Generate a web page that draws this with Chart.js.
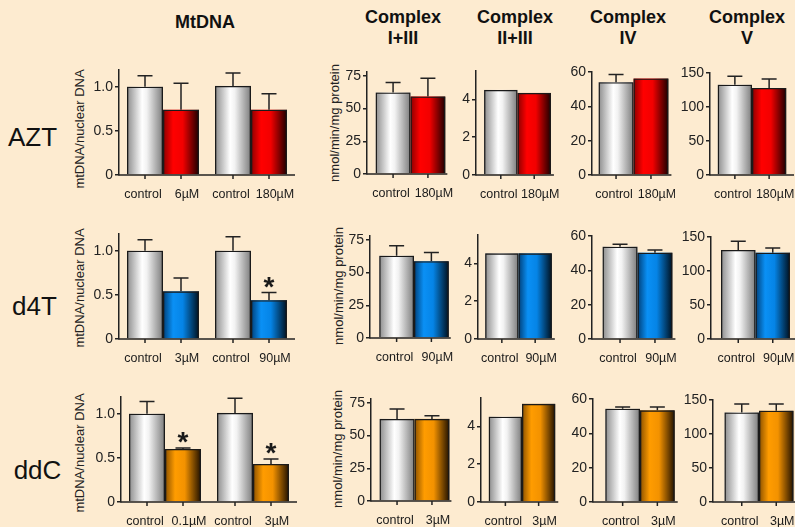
<!DOCTYPE html>
<html>
<head>
<meta charset="utf-8">
<script src="https://cdn.jsdelivr.net/npm/chart.js@4.4.1/dist/chart.umd.min.js"></script>
<style>
  body { margin: 0; background: #fdebd0; width: 795px; height: 527px; overflow: hidden; position: relative;
         font-family: 'Liberation Sans', Arial, sans-serif; color: #111; }
  canvas { position: absolute; }
  .ttl { position: absolute; transform: translate(-50%, -50%); text-align: center; font-weight: bold; font-size: 18px; line-height: 21px; white-space: nowrap; }
  .row { position: absolute; transform: translate(-50%, -50%); font-size: 26px; line-height: 1; }
  .ytl { position: absolute; transform: translate(-50%, -50%) rotate(-90deg); font-size: 13px; line-height: 1; white-space: nowrap; color: #222; }
</style>
</head>
<body>
<script>
// --- data ---
const drugs = ['AZT', 'd4T', 'ddC'];

// MtDNA panels: two control/treated pairs per drug
const mtDoses = [['6µM', '180µM'], ['3µM', '90µM'], ['0.1µM', '3µM']];
const mtControl = [[1.0, 1.01], [1.0, 1.0], [1.0, 1.01]];
const mtControlErr = [[0.125, 0.146], [0.125, 0.16], [0.14, 0.166]];
const mtTreated = [[0.74, 0.74], [0.54, 0.44], [0.60, 0.43]];
const mtTreatedErr = [[0.30, 0.18], [0.15, 0.086], [0.012, 0.057]];
const mtStars = [[false, false], [false, true], [true, true]];

// respiratory chain complexes: one control/treated pair per drug
const complexNames = ['I+III', 'II+III', 'IV', 'V'];
const complexDose = ['180µM', '90µM', '3µM'];
const complexControl = [[62.3, 4.50, 54.1, 132.7], [62.9, 4.53, 53.8, 130.9], [62.8, 4.51, 54.3, 131.8]];
const complexControlErr = [[7.6, 0, 4.5, 12.4], [7.7, 0, 1.4, 12.8], [7.6, 0, 1.1, 12.3]];
const complexTreated = [[59.3, 4.34, 56.2, 127.9], [58.7, 4.53, 50.3, 127.0], [62.8, 5.19, 53.4, 134.2]];
const complexTreatedErr = [[14.0, 0, 0, 13.2], [6.6, 0, 1.6, 6.9], [2.3, 0, 2.0, 9.9]];

// axis ranges per column (MtDNA, I+III, II+III, IV, V)
const colMax = [1.19, 78, 5.5, 60, 150];
const colStep = [0.5, 25, 2, 20, 50];

// --- layout ---
const rowBase = [175, 338.5, 501.5];
const axisX = [[118.5, 367, 475.7, 591.7, 710], [119.3, 370, 478.3, 591.7, 710.5], [120.7, 370.7, 481, 593.3, 713.3]];
const pairMid = [[410.7, 517.3, 633.3, 752.3], [414.3, 519, 637.3, 755], [414.3, 522.3, 640.7, 759.3]];
const colH = [105, 102.6, 104, 103, 102];
const colBarW = [36, 35, 33.5, 35, 34.5];
const colExtra = [0, 2, 3, 3, 9];
const Y_W = 44, PAD_T = 22, PAD_B = 32;

const grads = {
  control: [[0, '#8c8c8c'], [0.42, '#ffffff'], [0.55, '#f2f2f2'], [1, '#7c7c7c']],
  AZT: [[0, '#8a0000'], [0.28, '#ff0000'], [0.55, '#f20000'], [1, '#1c0000']],
  d4T: [[0, '#003f78'], [0.28, '#0a90f5'], [0.55, '#0584e6'], [1, '#00101e']],
  ddC: [[0, '#8a5000'], [0.28, '#ff9c00'], [0.55, '#f39200'], [1, '#201000']]
};

Chart.defaults.font.family = "'Liberation Sans', Arial, sans-serif";
Chart.defaults.color = '#222';
Chart.defaults.animation = false;

const decor = {
  id: 'decor',
  beforeDatasetsDraw(chart) {
    const ctx = chart.ctx;
    chart.data.datasets.forEach((ds, i) => {
      chart.getDatasetMeta(i).data.forEach(bar => {
        const p = bar.getProps(['x', 'y', 'base', 'width'], true);
        const l = p.x - p.width / 2;
        const g = ctx.createLinearGradient(l, 0, l + p.width, 0);
        ds.grad.forEach(s => g.addColorStop(s[0], s[1]));
        ctx.fillStyle = g;
        ctx.fillRect(l, p.y, p.width, p.base - p.y);
      });
    });
  },
  afterDatasetsDraw(chart, args, opts) {
    const ctx = chart.ctx, area = chart.chartArea, ys = chart.scales.y;
    ctx.save();
    ctx.strokeStyle = '#222';
    ctx.fillStyle = '#1a1a1a';
    ctx.lineWidth = 1.5;
    let right = area.left;
    chart.data.datasets.forEach((ds, i) => {
      chart.getDatasetMeta(i).data.forEach((bar, j) => {
        const p = bar.getProps(['x', 'y', 'width'], true);
        right = Math.max(right, p.x + p.width / 2);
        const err = ds.errs[j];
        const top = ys.getPixelForValue(ds.data[j] + err);
        if (err > 0) {
          ctx.beginPath();
          ctx.moveTo(p.x, p.y); ctx.lineTo(p.x, top);
          ctx.moveTo(p.x - 7.5, top); ctx.lineTo(p.x + 7.5, top);
          ctx.stroke();
        }
        ctx.beginPath();
        ctx.moveTo(p.x, area.bottom); ctx.lineTo(p.x, area.bottom + 4);
        ctx.stroke();
        ctx.font = "12.5px 'Liberation Sans', Arial, sans-serif";
        ctx.textAlign = 'center';
        ctx.textBaseline = 'middle';
        ctx.fillText(ds.names[j], p.x + ds.labelShift, area.bottom + 20);
        if (ds.stars[j]) {
          ctx.font = "bold 28px 'Liberation Sans', Arial, sans-serif";
          ctx.textBaseline = 'alphabetic';
          ctx.fillText('*', p.x, top + 3);
        }
      });
    });
    const end = opts.full ? area.right : right + opts.extra;
    ctx.beginPath();
    ctx.moveTo(area.left - 0.75, area.bottom); ctx.lineTo(end, area.bottom);
    ctx.stroke();
    ctx.restore();
  }
};

function panel(r, c, nCat, cw, d) {
  const h = colH[c];
  const cv = document.createElement('canvas');
  cv.width = Y_W + nCat * cw;
  cv.height = PAD_T + h + PAD_B;
  cv.style.left = (axisX[r][c] - Y_W) + 'px';
  cv.style.top = (rowBase[r] - h - PAD_T) + 'px';
  document.body.appendChild(cv);
  const fmt = c === 0 ? (v => v === 0 ? '0' : v.toFixed(1)) : (v => String(v));
  const barStyle = {
    backgroundColor: 'rgba(0,0,0,0)', borderColor: '#1a1a1a', borderWidth: 1.3,
    barPercentage: 1, categoryPercentage: 2 * colBarW[c] / cw
  };
  new Chart(cv, {
    type: 'bar',
    data: {
      labels: d.cats,
      datasets: [
        Object.assign({ data: d.ctrl, errs: d.ctrlErr, names: d.cats.map(() => 'control'),
          stars: d.cats.map(() => false), grad: grads.control, labelShift: -2 }, barStyle),
        Object.assign({ data: d.trt, errs: d.trtErr, names: d.trtNames,
          stars: d.stars, grad: grads[drugs[r]], labelShift: 6 }, barStyle)
      ]
    },
    options: {
      responsive: false,
      events: [],
      layout: { padding: { top: PAD_T, bottom: PAD_B, left: 0, right: 0 } },
      plugins: { legend: { display: false }, tooltip: { enabled: false }, colors: { enabled: false },
                 decor: { full: c === 0, extra: colExtra[c] } },
      scales: {
        x: { display: false },
        y: {
          min: 0, max: colMax[c],
          afterFit(s) { s.width = Y_W; },
          border: { display: true, color: '#222', width: 1.5 },
          grid: { drawOnChartArea: false, drawTicks: true, tickLength: 4, color: '#222', lineWidth: 1.5 },
          ticks: { stepSize: colStep[c], includeBounds: false, padding: 2, font: { size: 14 }, color: '#222', callback: fmt }
        }
      }
    },
    plugins: [decor]
  });
}

function text(cls, html, x, y) {
  const el = document.createElement('div');
  el.className = cls;
  el.innerHTML = html;
  el.style.left = x + 'px';
  el.style.top = y + 'px';
  document.body.appendChild(el);
}

// column titles
text('ttl', 'MtDNA', 205, 21.5);
const titleX = [403, 515, 628, 747];
complexNames.forEach((n, i) => text('ttl', 'Complex<br>' + n, titleX[i], 27.5));

// row labels and y-axis titles
const rowLabelPos = [[32.5, 136.5], [34.5, 306], [37.5, 470]];
const mtTitleY = [129, 288, 453];
const nmolTitle = [[333.5, 122.5], [338, 286], [336.5, 449]];
drugs.forEach((drug, r) => {
  text('row', drug, rowLabelPos[r][0], rowLabelPos[r][1]);
  text('ytl', 'mtDNA/nuclear DNA', 79, mtTitleY[r]);
  text('ytl', 'nmol/min/mg protein', nmolTitle[r][0], nmolTitle[r][1]);

  panel(r, 0, 2, 88, {
    cats: ['a', 'b'],
    ctrl: mtControl[r], ctrlErr: mtControlErr[r],
    trt: mtTreated[r], trtErr: mtTreatedErr[r],
    trtNames: mtDoses[r], stars: mtStars[r]
  });
  complexNames.forEach((n, k) => {
    const c = k + 1;
    const cw = 2 * (pairMid[r][k] - axisX[r][c]);
    panel(r, c, 1, cw, {
      cats: [n],
      ctrl: [complexControl[r][k]], ctrlErr: [complexControlErr[r][k]],
      trt: [complexTreated[r][k]], trtErr: [complexTreatedErr[r][k]],
      trtNames: [complexDose[r]], stars: [false]
    });
  });
});
</script>
</body>
</html>
